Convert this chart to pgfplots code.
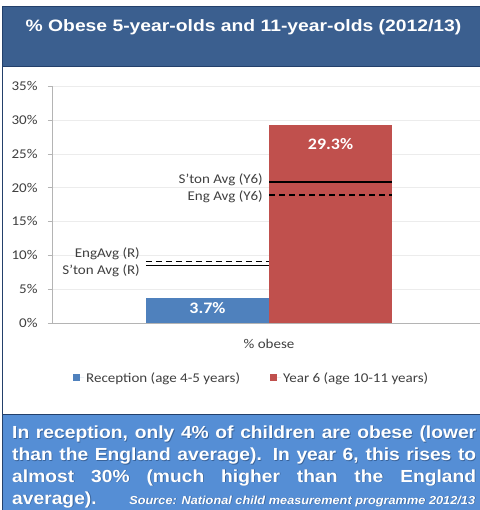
\documentclass[border=0pt]{standalone}
\usepackage{pgfplots}
\pgfplotsset{compat=1.18}
\usepackage{fontspec}
\setmainfont{Carlito}[FakeStretch=1.12]
\newfontfamily\arialfont{Liberation Sans}[FakeStretch=1.17]
\newfontfamily\arialtext{Liberation Sans}[FakeStretch=1.1]
\definecolor{band}{HTML}{3B5F8F}
\definecolor{frame}{HTML}{23406B}
\definecolor{boxblue}{HTML}{558ED5}
\definecolor{barblue}{HTML}{4F81BD}
\definecolor{barred}{HTML}{C0504D}
\definecolor{gridc}{HTML}{ECECEC}
\definecolor{axc}{HTML}{B4B4B4}
\definecolor{txt}{HTML}{404040}
\newcommand{\bottomtext}{\parbox[t]{464bp}{\arialtext\bfseries\fontsize{17.5bp}{21.9bp}\selectfont
   \hyphenpenalty=10000 \exhyphenpenalty=10000
   In reception, only 4\% of children are obese (lower\linebreak
   than the England average). In year 6, this rises to\linebreak
   almost 30\% (much higher than the England\linebreak
   average).\hfill{\itshape\fontsize{11.6bp}{14bp}\selectfont Source: National child measurement programme 2012/13}\hspace*{1bp}}}
\begin{document}
\begin{tikzpicture}
\useasboundingbox (0,0) rectangle (480bp,-510bp);
\fill[white] (0,0) rectangle (480bp,-510bp);
% title band
\fill[band] (2bp,-6bp) rectangle (480bp,-67bp);
\draw[frame,line width=1bp] (480bp,-6.5bp) -- (2.5bp,-6.5bp) -- (2.5bp,-510bp);
\draw[frame,line width=1bp] (2bp,-66.5bp) -- (480bp,-66.5bp);
\node[anchor=base,text=white,inner sep=0] at (243.5bp,-31.5bp)
  {\arialfont\bfseries\fontsize{16.5bp}{20bp}\selectfont \% Obese 5-year-olds and 11-year-olds (2012/13)};
% bottom box
\fill[boxblue] (3bp,-414bp) rectangle (480bp,-510bp);
\draw[frame,line width=1bp] (2bp,-414bp) -- (480bp,-414bp);
\node[anchor=base west,inner sep=0,text=frame,opacity=0.55] at (12.8bp,-439.1bp) {\bottomtext};
\node[anchor=base west,inner sep=0,text=white] at (12bp,-438.3bp) {\bottomtext};
\begin{axis}[
  at={(52bp,-323bp)}, anchor=south west,
  scale only axis, width=428bp, height=237bp,
  xmin=-1.764, xmax=1.715, ymin=0, ymax=35,
  axis x line*=bottom, axis y line*=left,
  axis line style={draw=axc,-},
  ytick={0,5,10,15,20,25,30,35},
  yticklabel={\pgfmathprintnumber{\tick}\%},
  /pgf/number format/assume math mode=true,
  ymajorgrids, grid style={draw=gridc},
  tick align=outside, major tick length=4bp,
  ytick style={draw=axc},
  xtick={0}, xticklabels={\% obese},
  xtick style={draw=none},
  ticklabel style={font=\fontsize{13.4bp}{16bp}\selectfont, text=txt},
  yticklabel style={xshift=-7bp},
  xticklabel style={yshift=-9bp},
  legend columns=2,
  legend style={at={(0.049,-0.232)}, anchor=west, draw=none, inner sep=0pt,
    font=\fontsize{13.4bp}{16bp}\selectfont, text=txt,
    /tikz/every even column/.append style={column sep=28bp},
    nodes={inner sep=2bp}},
  legend image code/.code={\fill[#1] (0bp,-3.5bp) rectangle (7bp,3.5bp); \path (0bp,0bp) -- (11bp,0bp);},
]
\addplot[ybar, bar width=1, bar shift=-0.5, fill=barblue, draw=none] coordinates {(0,3.7)};
\addlegendentry{Reception (age 4-5 years)}
\addplot[ybar, bar width=1, bar shift=0.5, fill=barred, draw=none] coordinates {(0,29.3)};
\addlegendentry{Year 6 (age 10-11 years)}
% averages
\addplot[black, line width=1.6bp, forget plot] coordinates {(-1,8.5) (0,8.5)};
\addplot[black, line width=1.6bp, dash pattern=on 6bp off 4bp, forget plot] coordinates {(-1,9.1) (0,9.1)};
\addplot[black, line width=1.6bp, forget plot] coordinates {(0,20.8) (1,20.8)};
\addplot[black, line width=1.6bp, dash pattern=on 6bp off 4bp, forget plot] coordinates {(0,18.9) (1,18.9)};
\node[anchor=east,inner sep=0,text=txt,font=\fontsize{13.4bp}{16bp}\selectfont] at (axis cs:-1.049,10.19) {EngAvg (R)};
\node[anchor=east,inner sep=0,text=txt,font=\fontsize{13.4bp}{16bp}\selectfont] at (axis cs:-1.049,7.72) {S'ton Avg (R)};
\node[anchor=east,inner sep=0,text=txt,font=\fontsize{13.4bp}{16bp}\selectfont] at (axis cs:-0.049,21.12) {S'ton Avg (Y6)};
\node[anchor=east,inner sep=0,text=txt,font=\fontsize{13.4bp}{16bp}\selectfont] at (axis cs:-0.049,18.65) {Eng Avg (Y6)};
\node[text=white,font=\bfseries\fontsize{16bp}{18bp}\selectfont] at (axis cs:-0.5,2.2) {3.7\%};
\node[text=white,font=\bfseries\fontsize{16bp}{18bp}\selectfont] at (axis cs:0.5,26.4) {29.3\%};
\end{axis}
\end{tikzpicture}
\end{document}
